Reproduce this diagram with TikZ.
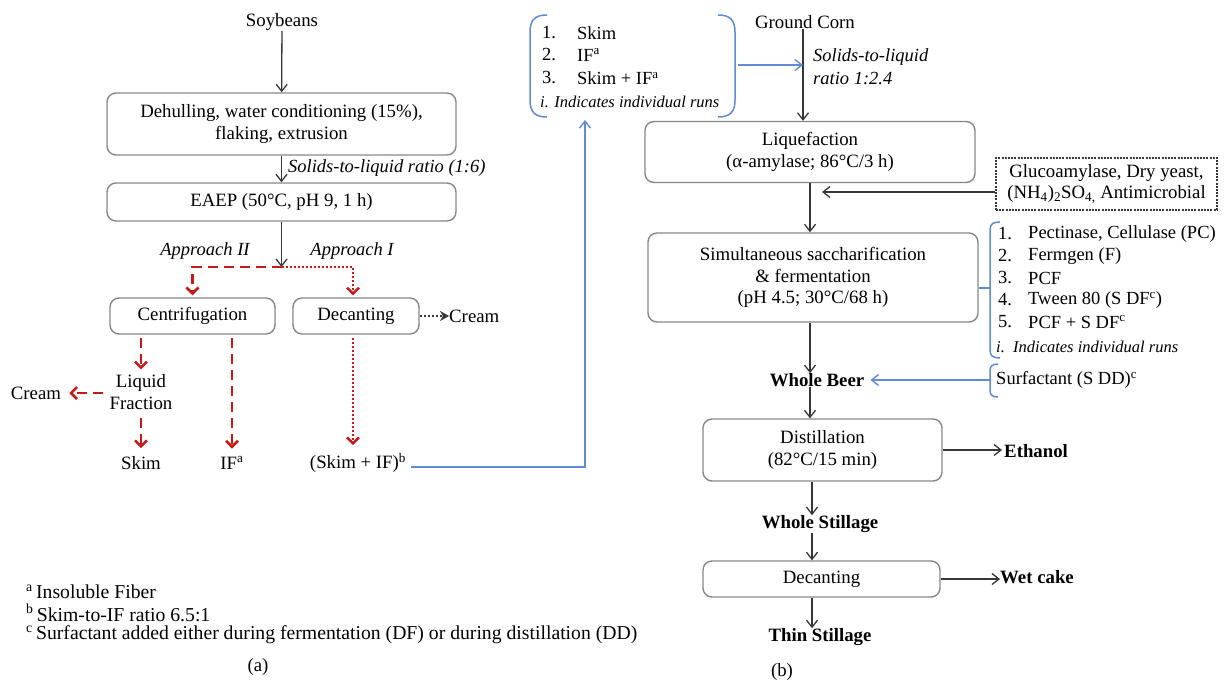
\documentclass[tikz,border=0pt]{standalone}
\usepackage{fontspec}
\setmainfont{Liberation Serif}
\usetikzlibrary{arrows.meta,calc}
\definecolor{boxgray}{RGB}{135,135,135}
\definecolor{arrgray}{RGB}{55,55,55}
\definecolor{myred}{RGB}{200,25,25}
\definecolor{myblue}{RGB}{95,140,215}
\begin{document}
\begin{tikzpicture}[x=1pt,y=-1pt,
  txt/.style={font=\fontsize{18.8}{21.5}\selectfont, inner sep=0pt},
  fnt/.style={font=\fontsize{19.7}{21.5}\selectfont, inner sep=0pt, anchor=west},
  boxnode/.style={txt, draw=boxgray, line width=1.4pt, rounded corners=9pt, align=center},
  itl/.style={inner sep=0pt, font=\fontsize{18.5}{21.5}\selectfont\itshape},
  smit/.style={inner sep=0pt, font=\fontsize{16.5}{19}\selectfont\itshape, anchor=west},
  bld/.style={inner sep=0pt, font=\fontsize{18.8}{21.5}\selectfont\bfseries},
  lst/.style={inner sep=0pt, font=\fontsize{18.5}{21.5}\selectfont, anchor=west},
  arr/.style={draw=arrgray, line width=1.3pt, -{Straight Barb[length=7pt,width=11pt]}},
  redda/.style={draw=myred, line width=2.8pt, dash pattern=on 10pt off 6pt, -{Straight Barb[length=6pt,width=12pt,line width=2.6pt]}},
  reddo/.style={draw=myred, line width=2.2pt, dash pattern=on 2pt off 2pt, -{Straight Barb[length=6pt,width=12pt,line width=2.4pt]}},
  blkdo/.style={draw=arrgray, line width=1.8pt, dash pattern=on 2pt off 2pt, -{Stealth[length=9pt,width=10pt]}},
  bluearr/.style={draw=myblue, line width=1.4pt, -{Straight Barb[length=7pt,width=11pt]}},
  brk/.style={draw=myblue, line width=1.5pt}
]
\useasboundingbox (0,0) rectangle (1225,683);
% ---------- panel (a)
\node[txt] (soy) at (282,22) {Soybeans};
\node[boxnode, minimum width=349pt, minimum height=62pt] (b1) at (281.5,124) {Dehulling, water conditioning (15\%),\\flaking, extrusion};
\node[boxnode, minimum width=349pt, minimum height=38pt] (b2) at (281.5,202) {EAEP (50°C, pH 9, 1 h)};
\draw[arr] (soy) -- (b1);
\draw[arr] (b1) -- (b2);
\node[itl, anchor=west] (sl1) at (288,168) {Solids-to-liquid ratio (1:6)};
\coordinate (split) at (281.5,267);
\draw[arr] (b2) -- (split);
\node[itl] (ap2) at (205,251) {Approach II};
\node[itl] (ap1) at (352,251) {Approach I};
\node[boxnode, minimum width=165pt, minimum height=36pt] (cent) at (192.5,316) {Centrifugation};
\node[boxnode, minimum width=126pt, minimum height=36pt] (dec) at (356,316) {Decanting};
\coordinate (c1) at (192.5,267);
\coordinate (d1) at (353,267);
\draw[redda, shorten >=2pt] (split) -- (c1) -- (cent.north);
\draw[reddo, shorten >=2pt] (split) -- (d1) -- (d1 |- dec.north);
\node[txt, anchor=west] (creamR) at (449,316) {Cream};
\draw[blkdo] (dec.east) -- (creamR.west);
\node[txt, align=center] (liqf) at (141,392) {Liquid\\Fraction};
\node[txt] (creamL) at (36,393) {Cream};
\node[txt] (skim) at (141,463) {Skim};
\node[txt] (ifa) at (232,463) {IF\textsuperscript{a}};
\node[txt] (skif) at (358,463) {(Skim + IF)\textsuperscript{b}};
\draw[redda, shorten <=3pt, shorten >=5pt] (cent.south -| liqf) -- (liqf.north);
\draw[redda, shorten <=6pt, shorten >=8pt] (liqf.west |- creamL) -- (creamL.east);
\draw[redda, shorten <=8pt, shorten >=8pt] (liqf.south) -- (skim.north);
\draw[redda, shorten <=3pt, shorten >=8pt] (cent.south -| ifa) -- (ifa.north);
\draw[reddo, shorten <=3pt, shorten >=8pt] (d1 |- dec.south) -- (d1 |- skif.north);
\coordinate (bl1) at (585,467);
\coordinate (brk1b) at (585,120);
\draw[bluearr] (skif.east |- bl1) ++(5,0) -- (bl1) -- (brk1b);
\node[fnt] (fn1) at (26,592) {\textsuperscript{a}\,Insoluble Fiber};
\node[fnt] (fn2) at (26,613) {\textsuperscript{b}\,Skim-to-IF ratio 6.5:1};
\node[fnt] (fn3) at (26,635) {\textsuperscript{c}\,Surfactant added either during fermentation (DF) or during distillation (DD)};
\node[txt] (pa) at (258,667) {(a)};
% ---------- panel (b)
\draw[brk] (547,15) .. controls (535,15) and (530,20) .. (530,32) -- (530,100) .. controls (530,112) and (535,117) .. (547,117);
\draw[brk] (718,15) .. controls (730,15) and (735,20) .. (735,32) -- (735,100) .. controls (735,112) and (730,117) .. (718,117);
\node[lst] (n1) at (542,33) {1.}; \node[lst] (t1) at (577,33) {Skim};
\node[lst] (n2) at (542,55) {2.}; \node[lst] (t2) at (577,55) {IF\textsuperscript{a}};
\node[lst] (n3) at (542,78) {3.}; \node[lst] (t3) at (577,78) {Skim + IF\textsuperscript{a}};
\node[smit] (ir1) at (540,102) {i. Indicates individual runs};
\coordinate (br1r) at (738,65);
\node[txt] (corn) at (805,22) {Ground Corn};
\node[boxnode, minimum width=330pt, minimum height=61pt] (liq) at (810,152) {Liquefaction\\(α-amylase; 86°C/3 h)};
\coordinate (cornax) at (803,65);
\draw[arr] (corn.south -| cornax) -- (cornax |- liq.north);
\draw[bluearr] (br1r) -- (cornax);
\node[itl, anchor=west] (sl2a) at (813,57) {Solids-to-liquid};
\node[itl, anchor=west] (sl2b) at (813,79) {ratio 1:2.4};
\node[txt, draw=arrgray, line width=1.3pt, dash pattern=on 2pt off 1.2pt, minimum width=221pt, minimum height=52pt, align=center] (gluc) at (1106.5,184) {Glucoamylase, Dry yeast,\\(NH\textsubscript{4})\textsubscript{2}SO\textsubscript{4,} Antimicrobial};
\node[boxnode, minimum width=330pt, minimum height=89pt] (ssf) at (813,277.5) {Simultaneous saccharification\\\& fermentation\\(pH 4.5; 30°C/68 h)};
\coordinate (ax) at (810,0);
\coordinate (gy) at (0,192);
\coordinate (gend) at (822,192);
\draw[arr] (liq.south -| ax) -- (ax |- ssf.north);
\draw[arr] (gluc.west |- gy) -- (gend);
% list bracket
\draw[brk] (1000,222) .. controls (993,222) and (990,224) .. (990,230) -- (990,350) .. controls (990,356) and (993,358) .. (1000,358);
\draw[brk] (990,288) -- (ssf.east |- 0,288);
\node[lst] (m1) at (998,234) {1.}; \node[lst] (u1) at (1028,234) {Pectinase, Cellulase (PC)};
\node[lst] (m2) at (998,256) {2.}; \node[lst] (u2) at (1028,256) {Fermgen (F)};
\node[lst] (m3) at (998,278) {3.}; \node[lst] (u3) at (1028,278) {PCF};
\node[lst] (m4) at (998,300) {4.}; \node[lst] (u4) at (1028,300) {Tween 80 (S DF\textsuperscript{c})};
\node[lst] (m5) at (998,322) {5.}; \node[lst] (u5) at (1028,322) {PCF + S DF\textsuperscript{c}};
\node[smit] (ir2) at (996,347) {i.\ \ Indicates individual runs};
\node[bld] (wb) at (817,380) {Whole Beer};
\draw[arr] (ssf.south -| ax) -- (ax |- wb.north);
\node[lst] (surf) at (996,380) {Surfactant (S DD)\textsuperscript{c}};
\draw[brk] (998,364) .. controls (993,364) and (990,366) .. (990,370) -- (990,391) .. controls (990,395) and (993,397) .. (998,397);
\coordinate (bt2) at (990,380);
\draw[bluearr, shorten >=6pt] (bt2) -- (wb.east);
\node[boxnode, minimum width=239pt, minimum height=62pt] (dist) at (822.5,450) {Distillation\\(82°C/15 min)};
\draw[arr] (wb.south -| ax) -- (ax |- dist.north);
\node[bld, anchor=west] (eth) at (1004,451) {Ethanol};
\draw[arr, shorten >=2pt] (dist.east) -- (dist.east -| eth.west);
\node[bld] (ws) at (820,524) {Whole Stillage};
\coordinate (ax2) at (812,0);
\draw[arr] (dist.south -| ax2) -- (ax2 |- ws.north);
\node[boxnode, minimum width=237pt, minimum height=36pt] (dec2) at (821.5,579) {Decanting};
\draw[arr] (ws.south -| ax2) -- (ax2 |- dec2.north);
\node[bld, anchor=west] (wc) at (1000,577) {Wet cake};
\draw[arr] (dec2.east) -- (dec2.east -| wc.west);
\node[bld] (ts) at (820,637) {Thin Stillage};
\draw[arr] (dec2.south -| ax2) -- (ax2 |- ts.north);
\node[txt] (pb) at (782,672) {(b)};
\end{tikzpicture}
\end{document}
